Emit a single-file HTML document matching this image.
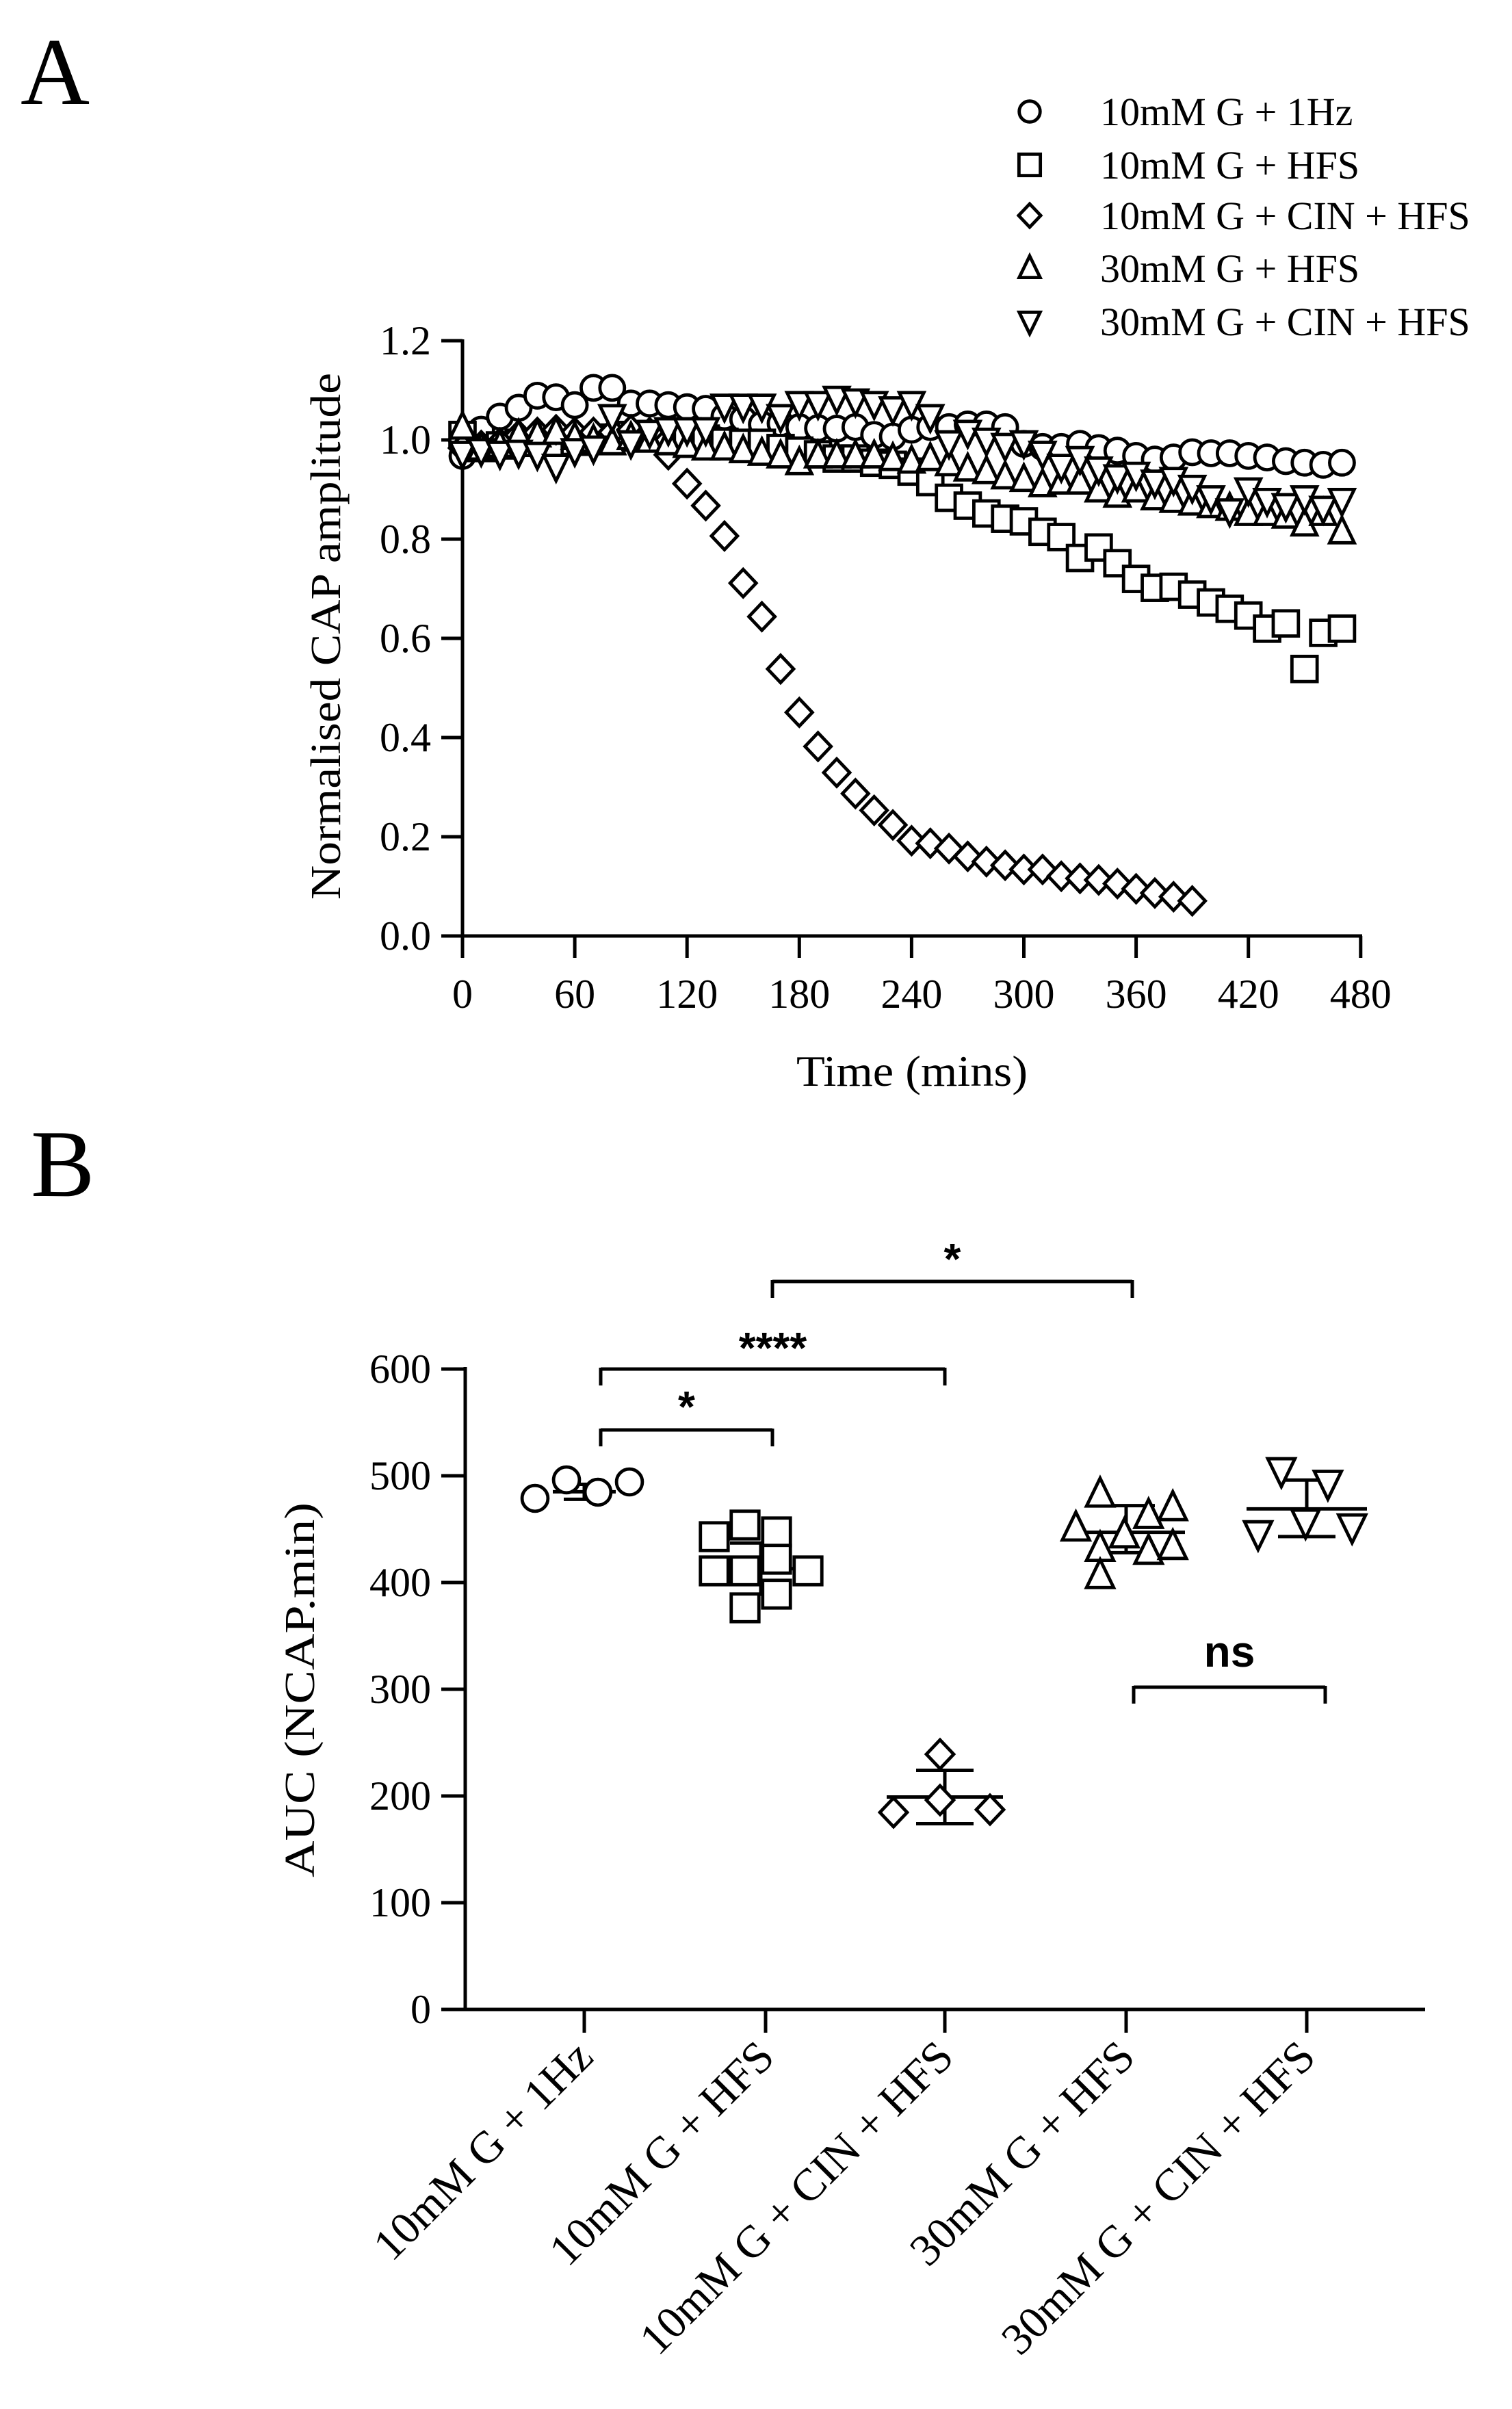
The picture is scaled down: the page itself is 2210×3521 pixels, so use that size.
<!DOCTYPE html>
<html><head><meta charset="utf-8"><style>
html,body{margin:0;padding:0;background:#fff}
svg{display:block}
text{font-family:"Liberation Serif",serif;fill:#000}
</style></head><body>
<svg id="s" width="2210" height="3521" viewBox="0 0 2210 3521" xmlns="http://www.w3.org/2000/svg">
<rect width="2210" height="3521" fill="#fff"/>
<text x="30" y="152" font-size="140">A</text>
<text x="45" y="1748" font-size="140">B</text>
<g id="g"></g>
</svg>
<script>
var g=document.getElementById('g'),h='';
function L(x1,y1,x2,y2,w){h+='<line x1="'+x1+'" y1="'+y1+'" x2="'+x2+'" y2="'+y2+'" stroke="#000" stroke-width="'+(w||5)+'"/>';}
function T(x,y,s,fs,anc,extra){h+='<text x="'+x+'" y="'+y+'" font-size="'+fs+'" text-anchor="'+(anc||'start')+'" '+(extra||'')+'>'+s+'</text>';}
function M(type,x,y,r){var sw=4.8;
 if(type=='o')h+='<circle cx="'+x+'" cy="'+y+'" r="'+(r*0.9)+'" fill="#fff" stroke="#000" stroke-width="'+sw+'"/>';
 else if(type=='s')h+='<rect x="'+(x-r*0.92)+'" y="'+(y-r*0.92)+'" width="'+(r*1.84)+'" height="'+(r*1.84)+'" fill="#fff" stroke="#000" stroke-width="'+sw+'"/>';
 else if(type=='d')h+='<polygon points="'+x+','+(y-r)+' '+(x+r*0.95)+','+y+' '+x+','+(y+r)+' '+(x-r*0.95)+','+y+'" fill="#fff" stroke="#000" stroke-width="'+sw+'"/>';
 else if(type=='u')h+='<polygon points="'+x+','+(y-r*1.05)+' '+(x+r*0.9)+','+(y+r*0.8)+' '+(x-r*0.9)+','+(y+r*0.8)+'" fill="#fff" stroke="#000" stroke-width="'+sw+'"/>';
 else if(type=='v')h+='<polygon points="'+x+','+(y+r*1.05)+' '+(x+r*0.9)+','+(y-r*0.8)+' '+(x-r*0.9)+','+(y-r*0.8)+'" fill="#fff" stroke="#000" stroke-width="'+sw+'"/>';
}
var AX=676,AY0=1368;
function ax(t){return AX+t*164.1/60;}
function ay(v){return AY0-v*725;}
L(AX,AY0+2,AX,496,5); L(AX-2,AY0,1991,AY0,5);
for(var i=0;i<=6;i++){var y=ay(i*0.2);L(645,y,AX,y,5);T(630,y+20,(i*0.2).toFixed(1),60,'end');}
for(var i=0;i<=8;i++){var x=ax(i*60);L(x,AY0,x,1400,5);T(x,1473,''+i*60,60,'middle');}
T(1164,1587,'Time (mins)',64,'start','textLength="338" lengthAdjust="spacingAndGlyphs"');
T(0,0,'Normalised CAP amplitude',62,'middle','transform="translate(497,930) rotate(-90)" textLength="770" lengthAdjust="spacingAndGlyphs"');
function zv(zy){return 1.2*(1262-zy)/1137;}
var S={
 o:[345,295,270,253,230,233,248,215,215,245,245,248,252,255,270,275,285,283,290,292,293,290,305,308,295,290,290,285,285,290,322,328,328,322,330,335,345,352,348,338,340,340,345,348,355,358,362,358],
 s:[305,330,325,320,320,320,318,315,310,305,305,305,310,312,318,320,320,330,335,342,350,350,358,362,375,395,425,440,455,465,470,490,500,540,520,550,580,597,595,610,625,637,650,675,665,752,683,675],
 d:[330,325,320,305,300,295,300,300,300,295,300,343,398,440,498,588,652,752,835,900,950,990,1022,1050,1080,1085,1095,1110,1120,1127,1135,1135,1148,1152,1155,1162,1172,1180,1187,1195],
 u:[290,330,325,305,305,300,310,315,320,310,315,320,325,330,330,335,340,345,358,345,345,345,345,350,355,350,360,370,375,385,390,400,395,395,410,420,410,425,430,435,440,445,455,455,460,475,455,490],
 v:[340,335,340,338,342,365,335,330,270,320,300,295,295,295,250,250,250,270,245,245,235,240,245,255,245,270,320,300,315,325,320,340,365,350,370,385,380,395,390,405,425,450,410,430,440,425,445,430]
};
['o','s','d','u','v'].forEach(function(k){S[k].forEach(function(zy,i){M(k,ax(i*10),ay(zv(zy)),20);});});
var ly=[163,241,315,392,470],ln=['10mM G + 1Hz','10mM G + HFS','10mM G + CIN + HFS','30mM G + HFS','30mM G + CIN + HFS'],lk=['o','s','d','u','v'];
for(var i=0;i<5;i++){M(lk[i],1505,ly[i],17);T(1608,ly[i]+20,ln[i],58);}
var BX=680,BY0=2937;function by(v){return BY0-v*1.56;}
L(BX,BY0+2,BX,1998,5);L(BX-2,BY0,2083,BY0,5);
for(var i=0;i<=6;i++){var y=by(i*100);L(645,y,BX,y,5);T(630,y+20,''+i*100,60,'end');}
var cx=[854,1119,1381,1646,1910];
for(var i=0;i<5;i++){L(cx[i],BY0,cx[i],2971,5);}
var cl=['10mM G + 1Hz','10mM G + HFS','10mM G + CIN + HFS','30mM G + HFS','30mM G + CIN + HFS'];
for(var i=0;i<5;i++){T(0,0,cl[i],66,'end','transform="translate('+(cx[i]+16)+',3010) rotate(-45)"');}
T(0,0,'AUC (NCAP.min)',62,'middle','transform="translate(459,2470) rotate(-90)" textLength="548" lengthAdjust="spacingAndGlyphs"');
function bar(x1,x2,y,s,ty){L(x1,y,x2,y,5);L(x1,y-2,x1,y+24,5);L(x2,y-2,x2,y+24,5);h+='<text x="'+((x1+x2)/2)+'" y="'+ty+'" font-size="64" font-weight="bold" text-anchor="middle" style="font-family:\'Liberation Sans\',sans-serif">'+s+'</text>';}
bar(878,1129,2090,'*',2078);
bar(878,1381,2001,'****',1992);
bar(1129,1655,1873,'*',1862);
bar(1657,1937,2466,'ns',2436);
function eb(c,m,hw,sdT,sdB,cw){L(c-hw,by(m),c+hw,by(m),5);L(c,by(sdT),c,by(sdB),5);L(c-cw,by(sdT),c+cw,by(sdT),5);L(c-cw,by(sdB),c+cw,by(sdB),5);}
eb(854,485,46,492,478,30);
eb(1112,413,50,437,389,45);
eb(1381,199,85,224,174,42);
eb(1646,447,86,472,428,42);
eb(1910,469,88,496,443,42);
function Z(x,y){return [x*1.4167,y*1.4167+1311];}
[[782,2190],[828,2163],[874,2181],[920,2166]].forEach(function(p){M('o',p[0],p[1],21);});
[[1044,2246],[1089,2229],[1135,2239],[1135,2279],[1044,2296],[1089,2296],[1181,2296],[1135,2330],[1089,2350]].forEach(function(p){M('s',p[0],p[1],22);});
[[1374,2564],[1306,2649],[1374,2631],[1447,2645]].forEach(function(p){M('d',p[0],p[1],21);});
[[1135,616],[1110,651],[1135,672],[1160,658],[1185,638],[1210,630],[1135,700],[1185,675],[1210,670]].forEach(function(q){var p=Z(q[0],q[1]);M('u',p[0],p[1],22);});
[[1322,592],[1370,605],[1298,657],[1347,645],[1395,650]].forEach(function(q){var p=Z(q[0],q[1]);M('v',p[0],p[1],22);});
g.innerHTML=h;
</script>
</body></html>
